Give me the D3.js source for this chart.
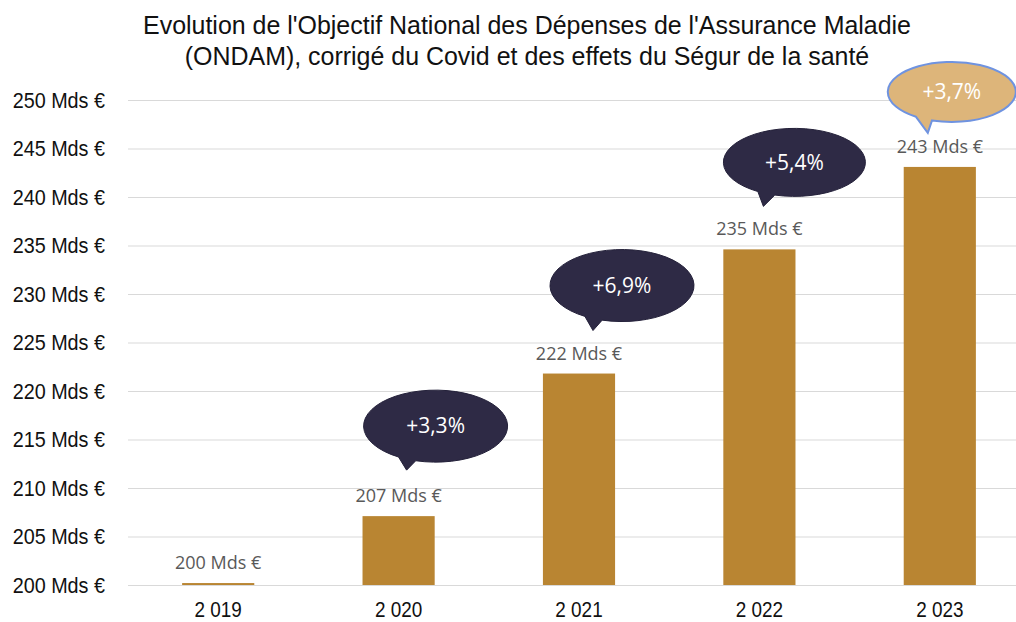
<!DOCTYPE html>
<html>
<head>
<meta charset="utf-8">
<script src="https://cdn.jsdelivr.net/npm/d3@7"></script>
<style>
  body { margin: 0; background: #fff; }
  .narrow { font-family: "Liberation Sans", Arial, sans-serif; }
</style>
</head>
<body>
<div id="chart"></div>
<script>
/* ONDAM bar chart */

const years = ["2 019", "2 020", "2 021", "2 022", "2 023"];
const values = [200.2, 207.1, 221.8, 234.6, 243.1];
const valueLabels = ["200 Mds €", "207 Mds €", "222 Mds €", "235 Mds €", "243 Mds €"];
const growth = [null, "+3,3%", "+6,9%", "+5,4%", "+3,7%"];
const yTicks = [200, 205, 210, 215, 220, 225, 230, 235, 240, 245, 250];

const width = 1016,
      height = 622,
      margin = ({ top: 100, right: -14, bottom: 37, left: 128 });

// bubble placement relative to bar centre / top
const bubbleLayout = [
  null,
  { dx: 37, dy: -90, rx: 72, ry: 36, tx: 8, ty: -46, a1: 106, a2: 121 },
  { dx: 43, dy: -88, rx: 72, ry: 36, tx: 14, ty: -43, a1: 106, a2: 121 },
  { dx: 35, dy: -87, rx: 71, ry: 34, tx: 4, ty: -43, a1: 106, a2: 121 },
  { dx: 12, dy: -75, rx: 64, ry: 30, tx: -12, ty: -34, a1: 108, a2: 124 }
];

const data = years.map((y, i) => ({ year: y, value: values[i], label: valueLabels[i], growth: growth[i], b: bubbleLayout[i] }));

let svg = d3.select("#chart")
    .append("svg")
    .attr("width", width)
    .attr("height", height);

let x = d3.scaleBand()
    .domain(years)
    .range([margin.left, width - margin.right])
    .paddingInner(0.6)
    .paddingOuter(0.3);

let y = d3.scaleLinear()
    .domain([200, 250])
    .range([height - margin.bottom, margin.top]);

// title (slightly squeezed Liberation Sans)
svg.append("g")
    .attr("transform", "translate(527,0) scale(0.96,1)")
    .append("text")
    .attr("class", "narrow")
    .attr("text-anchor", "middle")
    .style("font-size", "26px")
    .style("fill", "#111")
    .selectAll("tspan")
    .data(["Evolution de l'Objectif National des Dépenses de l'Assurance Maladie",
           "(ONDAM), corrigé du Covid et des effets du Ségur de la santé"])
    .join("tspan")
    .attr("x", 0)
    .attr("y", (d, i) => 34 + i * 31)
    .text(d => d);

// gridlines
svg.append("g")
    .selectAll("line")
    .data(yTicks)
    .join("line")
    .attr("x1", margin.left)
    .attr("x2", width)
    .attr("y1", d => y(d) + 0.5)
    .attr("y2", d => y(d) + 0.5)
    .attr("stroke", "#d9d9d9")
    .attr("stroke-width", 1);

// y axis
let yAxis = svg.append("g")
    .attr("transform", "translate(105,0)")
    .call(d3.axisLeft(y).tickValues(yTicks).tickFormat(d => d + " Mds €").tickSize(0));
yAxis.select(".domain").remove();
yAxis.selectAll("text")
    .attr("class", "narrow")
    .attr("x", 0)
    .attr("transform", "scale(0.9,1)")
    .style("font-size", "22px")
    .style("fill", "#111");

// x axis
let xAxis = svg.append("g")
    .attr("transform", `translate(0,${height - margin.bottom})`)
    .call(d3.axisBottom(x).tickSize(0).tickPadding(16));
xAxis.select(".domain").remove();
xAxis.selectAll("text")
    .attr("class", "narrow")
    .attr("transform", "scale(0.86,1)")
    .style("font-size", "22px")
    .style("fill", "#111");

let bar = svg.selectAll(".bar")
    .data(data)
    .join("g")
    .attr("class", "bar");

bar.append("rect")
    .attr("fill", "#B98532")
    .attr("x", d => x(d.year))
    .attr("width", x.bandwidth())
    .attr("y", d => y(d.value))
    .attr("height", d => y(200) - y(d.value));

bar.append("text")
    .text(d => d.label)
    .attr("x", d => x(d.year) + x.bandwidth() / 2)
    .attr("y", d => y(d.value) - 14)
    .attr("text-anchor", "middle")
    .style("font-family", "'Open Sans', sans-serif")
    .style("font-size", "18px")
    .style("fill", "#595959");

// speech bubbles
function bubblePath(cx, cy, b, tipX, tipY) {
  const rad = Math.PI / 180;
  const p = a => [cx + b.rx * Math.cos(a * rad), cy + b.ry * Math.sin(a * rad)];
  const r = p(b.a1), l = p(b.a2);
  return `M${r[0]},${r[1]} A${b.rx},${b.ry} 0 1 0 ${l[0]},${l[1]} L${tipX},${tipY} Z`;
}

let bubbles = svg.selectAll(".bubble")
    .data(data.filter(d => d.growth))
    .join("g")
    .attr("class", "bubble");

bubbles.append("path")
    .attr("d", d => {
      const bx = x(d.year) + x.bandwidth() / 2, by = y(d.value);
      return bubblePath(bx + d.b.dx, by + d.b.dy, d.b, bx + d.b.tx, by + d.b.ty);
    })
    .attr("fill", (d, i, n) => i === n.length - 1 ? "#DDB57A" : "#2E2A45")
    .attr("stroke", (d, i, n) => i === n.length - 1 ? "#6F93E0" : "#24213a")
    .attr("stroke-width", (d, i, n) => i === n.length - 1 ? 2 : 1);

bubbles.append("text")
    .text(d => d.growth)
    .attr("x", d => x(d.year) + x.bandwidth() / 2 + d.b.dx)
    .attr("y", d => y(d.value) + d.b.dy)
    .attr("dy", "0.35em")
    .attr("text-anchor", "middle")
    .style("font-family", "'Open Sans', sans-serif")
    .style("font-size", "21px")
    .style("fill", "#fff");

</script>
</body>
</html>
